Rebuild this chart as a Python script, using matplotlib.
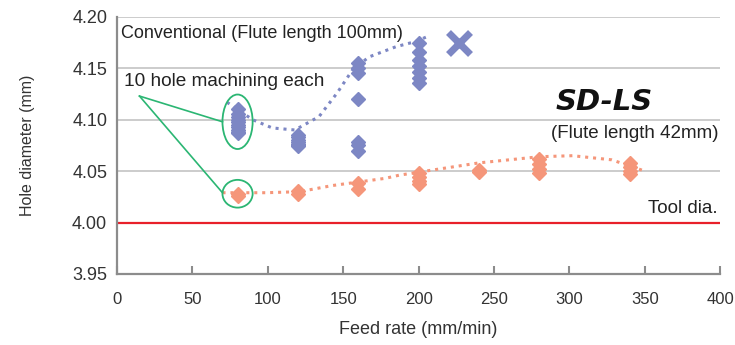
import numpy as np
import matplotlib.pyplot as plt
from matplotlib.patches import Ellipse

plt.rcParams['font.family'] = ['Liberation Sans', 'DejaVu Sans']

# Datos
feed_conv = [80, 120, 160, 200]
holes_conv = [
    [4.110, 4.106, 4.103, 4.100, 4.098, 4.095, 4.093, 4.090, 4.088, 4.087],
    [4.085, 4.083, 4.080, 4.078, 4.076, 4.075, 4.074],
    [4.155, 4.150, 4.145, 4.120, 4.078, 4.075, 4.070],
    [4.175, 4.166, 4.158, 4.152, 4.146, 4.141, 4.136],
]
trend_conv_x = [73, 90, 103, 118, 134, 146, 156, 167, 185, 198, 206]
trend_conv_y = [4.117, 4.100, 4.092, 4.090, 4.103, 4.126, 4.148, 4.161, 4.171, 4.176, 4.181]

feed_sdls = [80, 120, 160, 200, 240, 280, 340]
holes_sdls = [
    [4.028, 4.026],
    [4.031, 4.028],
    [4.038, 4.033],
    [4.048, 4.044, 4.040, 4.037],
    [4.051, 4.049],
    [4.062, 4.057, 4.052, 4.048],
    [4.058, 4.054, 4.050, 4.047],
]
trend_sdls_x = [70, 99, 121, 143, 178, 187, 209, 240, 280, 302, 328, 348]
trend_sdls_y = [4.029, 4.029, 4.030, 4.036, 4.043, 4.046, 4.051, 4.058, 4.064, 4.065, 4.061, 4.051]

cross_x = [227]
cross_y = [4.175]
tool_dia = 4.00

x_ticks = [0, 50, 100, 150, 200, 250, 300, 350, 400]
y_ticks = [3.95, 4.00, 4.05, 4.10, 4.15, 4.20]

AZUL = '#7d87c4'
NARANJA = '#f5967a'
VERDE = '#2bb673'

fig = plt.figure(figsize=(7.35, 3.45), dpi=100)
ax = fig.add_axes([0.159, 0.206, 0.821, 0.745])

for y in y_ticks:
    ax.axhline(y, color='#c4c4c4', lw=1.2, zorder=0)

ax.axhline(tool_dia, color='#e8202a', lw=1.6, zorder=1)

ax.plot(trend_conv_x, trend_conv_y, ls=(0, (1, 1.6)), lw=2.2, color=AZUL, zorder=2)
ax.plot(trend_sdls_x, trend_sdls_y, ls=(0, (1, 1.6)), lw=2.2, color=NARANJA, zorder=2)

for f, vals in zip(feed_conv, holes_conv):
    ax.plot([f] * len(vals), vals, 'D', ms=7, color=AZUL, mec=AZUL, zorder=3)
for f, vals in zip(feed_sdls, holes_sdls):
    ax.plot([f] * len(vals), vals, 'D', ms=7, color=NARANJA, mec=NARANJA, zorder=3)

ax.plot(cross_x, cross_y, 'x', ms=16, mew=5, color=AZUL, zorder=3)

# anotaciones
ax.add_patch(Ellipse((80, 4.098), 20, 0.053, fill=False, ec=VERDE, lw=1.3, zorder=4))
ax.add_patch(Ellipse((80, 4.028), 20, 0.027, fill=False, ec=VERDE, lw=1.3, zorder=4))
ax.plot([15, 70], [4.123, 4.098], color=VERDE, lw=1.2, zorder=4)
ax.plot([15, 70], [4.123, 4.029], color=VERDE, lw=1.2, zorder=4)

ax.text(3, 4.184, 'Conventional (Flute length 100mm)', fontsize=13, va='center', ha='left', color='#222222')
ax.text(5, 4.137, '10 hole machining each', fontsize=13.7, va='center', ha='left', color='#222222')
ax.text(291, 4.117, 'SD-LS', fontsize=21, fontweight='heavy', style='italic',
        family='DejaVu Sans', va='center', ha='left', color='#111111')
ax.text(288, 4.087, '(Flute length 42mm)', fontsize=13.5, va='center', ha='left', color='#222222')
ax.text(398, 4.014, 'Tool dia.', fontsize=13.5, va='center', ha='right', color='#222222')

ax.set_xlim(0, 400)
ax.set_ylim(3.95, 4.20)
ax.set_xticks(x_ticks)
ax.set_yticks(y_ticks)
ax.set_yticklabels([f'{v:.2f}' for v in y_ticks])
ax.tick_params(axis='x', direction='in', length=6, width=1.5, color='#8c8c8c',
               labelsize=12, pad=13, labelcolor='#333333')
ax.tick_params(axis='y', length=0, labelsize=13, pad=7, labelcolor='#333333')

for s in ['top', 'right']:
    ax.spines[s].set_visible(False)
for s in ['left', 'bottom']:
    ax.spines[s].set_color('#8c8c8c')
    ax.spines[s].set_linewidth(1.6)

ax.set_xlabel('Feed rate (mm/min)', fontsize=13, color='#333333', labelpad=10)
ax.set_ylabel('Hole diameter (mm)', fontsize=11.5, color='#333333', labelpad=27)

fig.savefig('out.png', dpi=100)
